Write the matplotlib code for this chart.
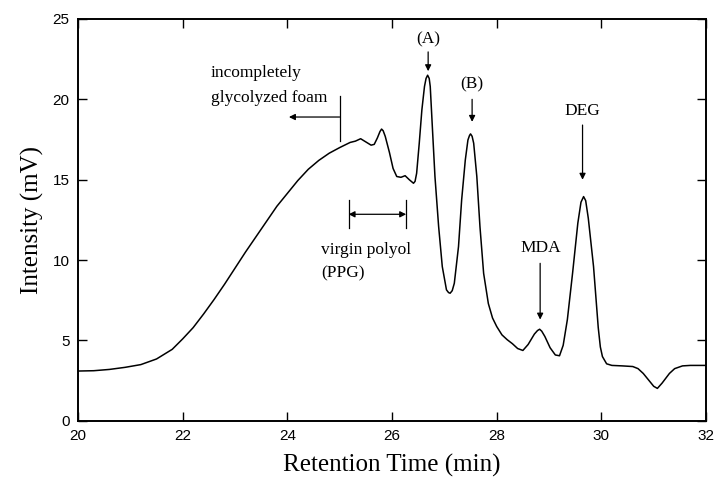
import matplotlib
matplotlib.use('Agg')
import matplotlib.pyplot as plt

# chromatogram
time_min = [
    20.0, 20.3, 20.6, 20.9, 21.2, 21.5, 21.8, 22.0, 22.2, 22.4, 22.6, 22.8,
    23.0, 23.2, 23.4, 23.6, 23.8, 24.0, 24.2, 24.4, 24.6, 24.8, 25.0, 25.2,
    25.3, 25.4, 25.5, 25.6, 25.66, 25.72, 25.77, 25.8, 25.83, 25.87, 25.91,
    25.95, 26.02, 26.09, 26.17, 26.25, 26.33, 26.41, 26.44, 26.47, 26.52,
    26.57, 26.62, 26.65, 26.68, 26.71, 26.73, 26.77, 26.82, 26.89, 26.96,
    27.04, 27.08, 27.11, 27.15, 27.19, 27.27, 27.33, 27.40, 27.45, 27.48,
    27.50, 27.53, 27.56, 27.62, 27.68, 27.75, 27.84, 27.92, 28.0, 28.1, 28.2,
    28.3, 28.4, 28.5, 28.6, 28.72, 28.78, 28.82, 28.86, 28.92, 29.02, 29.12,
    29.2, 29.27, 29.35, 29.45, 29.55, 29.61, 29.66, 29.70, 29.75, 29.85,
    29.94, 29.98, 30.02, 30.1, 30.2, 30.4, 30.6, 30.7, 30.8, 30.9, 31.0,
    31.07, 31.16, 31.3, 31.4, 31.55, 31.7, 32.0,
]
intensity = [
    3.10, 3.12, 3.20, 3.33, 3.50, 3.85, 4.45, 5.10, 5.80, 6.65, 7.55, 8.50,
    9.50, 10.50, 11.45, 12.40, 13.35, 14.15, 14.95, 15.65, 16.20, 16.65, 17.00,
    17.32, 17.40, 17.55, 17.35, 17.15, 17.20, 17.60, 18.00, 18.15, 18.05,
    17.70, 17.20, 16.70, 15.70, 15.20, 15.15, 15.25, 15.00, 14.78, 14.90,
    15.40, 17.27, 19.34, 20.80, 21.30, 21.50, 21.30, 20.80, 18.30, 15.20,
    12.10, 9.60, 8.15, 7.98, 7.94, 8.10, 8.56, 10.84, 13.74, 16.23, 17.47,
    17.75, 17.85, 17.70, 17.27, 15.20, 12.08, 9.18, 7.30, 6.40, 5.87, 5.35,
    5.05, 4.80, 4.50, 4.38, 4.75, 5.40, 5.62, 5.70, 5.58, 5.25, 4.55, 4.10,
    4.05, 4.70, 6.30, 9.20, 12.30, 13.60, 13.95, 13.70, 12.60, 9.60, 5.80,
    4.60, 4.00, 3.55, 3.45, 3.42, 3.38, 3.25, 2.95, 2.55, 2.15, 2.02, 2.35,
    2.95, 3.25, 3.42, 3.45, 3.45,
]

x_ticks = [20, 22, 24, 26, 28, 30, 32]
y_ticks = [0, 5, 10, 15, 20, 25]

serif = ['Liberation Serif', 'DejaVu Serif']
sans = ['Liberation Sans', 'DejaVu Sans']

fig = plt.figure(figsize=(7.19, 4.86), dpi=100)
ax = fig.add_axes([0.1085, 0.134, 0.8735, 0.827])
ax.plot(time_min, intensity, color='black', lw=1.1)

ax.set_xlim(20, 32)
ax.set_ylim(0, 25)
ax.set_xticks(x_ticks)
ax.set_yticks(y_ticks)
ax.tick_params(direction='in', length=6.5, width=1.0, top=True, right=True,
               labelsize=11, pad=6)
for lbl in ax.get_xticklabels() + ax.get_yticklabels():
    lbl.set_family(sans)
for sp in ax.spines.values():
    sp.set_linewidth(1.4)

ax.set_xlabel('Retention Time (min)', family=serif, fontsize=18, labelpad=8)
ax.set_ylabel('Intensity (mV)', family=serif, fontsize=18, labelpad=6)

arrow = dict(arrowstyle='-|>', color='black', lw=0.9,
             mutation_scale=9, shrinkA=0, shrinkB=0)
txt = dict(family=serif, fontsize=12.5)

# peak labels
ax.text(26.69, 23.7, '(A)', ha='center', va='center', **txt)
ax.annotate('', xy=(26.69, 21.75), xytext=(26.69, 22.95), arrowprops=arrow)
ax.text(27.53, 20.9, '(B)', ha='center', va='center', **txt)
ax.annotate('', xy=(27.53, 18.6), xytext=(27.53, 20.0), arrowprops=arrow)
ax.text(29.64, 19.3, 'DEG', ha='center', va='center', **txt)
ax.annotate('', xy=(29.64, 15.0), xytext=(29.64, 18.4), arrowprops=arrow)
ax.text(28.85, 10.75, 'MDA', ha='center', va='center', **txt)
ax.annotate('', xy=(28.83, 6.3), xytext=(28.83, 9.8), arrowprops=arrow)

# incompletely glycolyzed foam
ax.text(22.54, 21.65, 'incompletely', ha='left', va='center', **txt)
ax.text(22.54, 20.1, 'glycolyzed foam', ha='left', va='center', **txt)
ax.plot([25.0, 25.0], [17.4, 20.2], color='black', lw=0.9)
ax.annotate('', xy=(24.03, 18.9), xytext=(25.0, 18.9), arrowprops=arrow)

# virgin polyol range
ax.plot([25.17, 25.17], [12.0, 13.75], color='black', lw=0.9)
ax.plot([26.27, 26.27], [12.0, 13.75], color='black', lw=0.9)
ax.annotate('', xy=(25.17, 12.85), xytext=(26.27, 12.85),
            arrowprops=dict(arrowstyle='<|-|>', color='black', lw=0.9,
                            mutation_scale=9, shrinkA=0, shrinkB=0))
ax.text(24.64, 10.65, 'virgin polyol', ha='left', va='center', **txt)
ax.text(24.64, 9.2, '(PPG)', ha='left', va='center', **txt)

fig.savefig('out.png', dpi=100)
